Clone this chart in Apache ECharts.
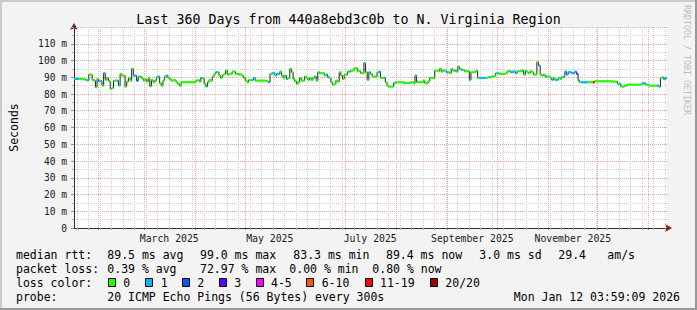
<!DOCTYPE html>
<html><head><meta charset="utf-8">
<script src="https://cdn.jsdelivr.net/npm/echarts@6/dist/echarts.min.js"></script>
<style>html,body{margin:0;padding:0;background:#f3f3f3}#c{width:697px;height:310px}</style>
</head><body><div id="c"></div>
<script>
// ---- data ----
const END_TIME = Date.UTC(2026, 0, 12, 3, 59, 9);
const SPAN_DAYS = 360;
const titleText = 'Last 360 Days from 440a8ebd3c0b to N. Virginia Region';
// day offsets (from the start of the 360-day window) where each median step begins
const days = [
  0,3,4,7,8,9,11,12,13,14,15,
  17,18,19,20,21,22,23,24,26,27,
  28,29,31,32,33,34,35,36,37,38,
  39,41,42,43,44,45,46,47,48,49,
  50,51,52,53,54,55,56,57,58,59,
  60,61,62,63,64,65,74,75,76,77,
  78,79,80,81,82,83,84,85,86,87,88,
  89,90,91,92,93,94,96,98,100,102,
  103,104,105,106,108,109,110,117,118,119,120,
  122,123,125,126,127,128,129,130,131,132,
  133,134,135,136,137,138,140,141,142,143,
  144,145,146,147,148,149,152,153,154,155,
  156,157,158,159,160,161,162,163,164,166,
  167,168,170,172,174,176,177,178,179,180,
  181,184,185,186,188,189,190,191,194,195,
  197,200,201,204,206,207,208,212,213,215,
  216,219,221,222,223,224,225,226,227,228,229,230,
  231,232,233,234,235,236,237,240,241,244,
  245,246,250,251,252,253,255,256,257,258,
  262,263,265,266,268,269,272,273,274,275,
  276,277,278,279,281,282,283,284,285,286,
  287,289,290,291,292,294,295,296,297,298,
  299,300,302,304,305,306,307,308,312,315,
  316,322,326,330,331,332,334,336,340,344,
  345,347,349,354,355,356,357,358,359
];
// median round-trip time in ms
const rttMs = [
  89.0,89.0,88.8,88.4,88.0,91.6,88.4,88.0,84.0,89.0,87.6,
  85.0,92.4,88.4,89.6,87.6,83.0,83.6,88.0,88.0,85.0,
  92.0,91.0,84.4,87.4,89.6,88.0,95.0,91.0,91.0,88.0,
  90.4,89.4,88.0,88.8,87.4,89.4,84.6,88.4,87.0,88.0,
  90.0,90.4,86.4,85.0,88.0,90.4,91.0,89.6,88.8,88.0,
  88.4,88.0,87.0,86.0,85.0,87.0,88.0,88.4,87.4,89.6,
  89.4,86.0,84.4,87.0,88.4,88.0,90.4,92.0,93.0,93.0,91.0,
  89.6,91.0,92.0,94.0,91.6,92.0,93.4,92.0,91.6,91.0,
  89.6,88.0,87.0,88.4,88.4,89.6,88.0,87.6,87.0,92.0,92.4,
  91.0,92.0,93.4,91.0,89.6,91.0,89.0,89.6,95.0,93.0,
  89.0,87.6,86.0,87.0,89.6,88.0,90.4,89.6,88.4,89.6,
  88.4,89.6,90.4,88.0,93.0,92.4,91.0,91.6,90.0,89.6,
  87.0,85.6,86.0,88.0,87.4,93.0,91.0,89.0,91.6,93.4,
  93.4,94.0,95.4,93.6,92.4,98.4,93.0,88.4,93.0,92.0,
  90.4,93.0,93.4,89.6,89.6,87.0,85.0,84.4,86.4,87.0,
  87.0,86.6,86.6,87.0,86.4,91.0,87.0,88.0,86.4,87.6,
  89.6,94.0,93.6,95.0,93.4,94.0,94.0,93.0,93.0,92.4,95.0,94.0,
  94.0,93.4,96.4,95.0,94.4,94.4,93.6,88.4,93.0,94.0,
  89.6,89.6,89.6,90.0,90.0,90.4,90.8,92.4,92.4,92.0,
  92.4,93.6,93.0,93.4,92.4,93.6,94.0,91.6,94.0,93.0,
  92.4,93.6,93.0,91.6,99.0,97.0,91.6,91.0,91.6,90.4,
  90.4,89.6,88.4,89.6,88.4,89.6,89.0,90.0,90.4,93.4,
  91.6,93.0,92.4,93.4,92.0,88.0,87.0,87.0,87.0,87.0,
  87.6,87.6,87.4,86.0,86.0,84.4,85.0,85.6,85.6,86.0,
  86.4,85.6,85.0,85.0,84.4,89.6,90.0,88.8,89.6
];
// loss class index per step (into lossLabels / lossColors)
const lossIdx = [
  1,0,0,1,0,0,0,0,0,0,1,
  0,1,0,0,0,0,0,0,1,0,
  0,0,0,0,0,0,0,1,1,2,
  0,0,0,0,0,0,0,0,0,0,
  0,1,0,0,0,0,1,0,0,0,
  0,0,0,0,0,0,0,0,0,1,
  0,0,0,0,0,0,0,0,1,0,0,
  0,0,0,0,0,0,0,0,0,0,
  0,0,0,0,1,1,0,0,1,0,1,
  0,1,0,0,0,0,1,0,0,0,
  0,0,0,0,0,0,0,0,0,0,
  0,0,1,0,0,0,0,1,1,0,
  0,0,0,0,0,0,0,0,0,0,
  1,0,0,0,0,1,0,0,1,0,
  0,0,1,0,1,0,0,0,1,0,
  0,1,0,0,0,1,0,0,0,0,
  0,0,0,0,0,1,0,1,0,0,0,0,
  1,0,0,0,1,0,0,1,0,0,
  0,1,0,0,1,0,0,0,1,0,
  0,0,1,1,1,0,1,0,0,0,
  0,0,0,0,0,1,0,0,0,1,
  0,0,1,0,1,0,0,0,1,1,
  1,1,1,1,2,1,0,1,0,6,
  0,0,0,0,1,0,0,0,0,0,
  1,0,0,1,1,0,0,1,1
];
const lossLabels = ['0','1','2','3','4-5','6-10','11-19','20/20'];
const lossColors = ['#26ff00','#00b8ff','#0059ff','#5e00ff','#ff00ff','#ff5500','#ff0000','#a10000'];
const monthNames = ['January','February','March','April','May','June','July','August','September','October','November','December'];
const labelMonths = [[2025,2],[2025,4],[2025,6],[2025,8],[2025,10]];
const rttStats = ['89.5 ms avg','99.0 ms max','83.3 ms min','89.4 ms now','3.0 ms sd','29.4','am/s'];
const lossStats = ['0.39 % avg','72.97 % max','0.00 % min','0.80 % now'];
const probeText = '20 ICMP Echo Pings (56 Bytes) every 300s';
const stampText = 'Mon Jan 12 03:59:09 2026';

// ---- derived ----
const DAY = 86400000;
const START = END_TIME - SPAN_DAYS * DAY;
const toDay = ms => (ms - START) / DAY;
const lineData = days.map((d, i) => [d, rttMs[i]]);
lineData.push([SPAN_DAYS, rttMs[rttMs.length - 1]]);
const segData = days.map((d, i) => [d, i + 1 < days.length ? days[i + 1] : SPAN_DAYS, rttMs[i], lossIdx[i]]);

// grid positions (in day offsets): weekly (Sundays) and monthly
const weekTicks = [];
{
  const s = new Date(START);
  let d = Date.UTC(s.getUTCFullYear(), s.getUTCMonth(), s.getUTCDate());
  while (new Date(d).getUTCDay() !== 0 || d < START) d += DAY;
  for (; d <= END_TIME; d += 7 * DAY) weekTicks.push(toDay(d));
}
const monthTicks = [];
{
  const s = new Date(START);
  let y = s.getUTCFullYear(), m = s.getUTCMonth() + 1;
  while (Date.UTC(y, m, 1) <= END_TIME) { monthTicks.push(toDay(Date.UTC(y, m, 1))); m++; if (m > 11) { m = 0; y++; } }
}
const labelTicks = labelMonths.map(([y, m]) => toDay(Date.UTC(y, m, 16)));

const MONO = '"DejaVu Sans Mono", monospace';
const G = [];
// frame
G.push({type:'rect', shape:{x:0,y:0,width:697,height:2}, style:{fill:'#cbcbcb'}, silent:true});
G.push({type:'rect', shape:{x:0,y:0,width:2,height:310}, style:{fill:'#cbcbcb'}, silent:true});
G.push({type:'rect', shape:{x:0,y:308,width:697,height:2}, style:{fill:'#999999'}, silent:true});
G.push({type:'rect', shape:{x:695,y:0,width:2,height:310}, style:{fill:'#999999'}, silent:true});
// title
G.push({type:'text', x:348.5, y:19, style:{text:titleText, font:'13.3px ' + MONO, fill:'#000', align:'center', verticalAlign:'middle'}});
// watermark
G.push({type:'text', x:687, y:60, rotation:-Math.PI/2, style:{text:'RRDTOOL / TOBI OETIKER', font:'8.3px ' + MONO, fill:'#bdbdbd', align:'center', verticalAlign:'middle'}});
function txt(s, x, y, align) {
  G.push({type:'text', x:x, y:y, style:{text:s, font:'11.5px ' + MONO, fill:'#000', align:align || 'left', verticalAlign:'middle'}});
}
// legend rows
txt('median rtt:', 16, 254.5);
[107.3, 200, 293.3, 386, 479.3, 558.3, 607.3].forEach((x, i) => txt(rttStats[i], x, 254.5));
txt('packet loss:', 16, 268.5);
[107.3, 200, 289.3, 372.3].forEach((x, i) => txt(lossStats[i], x, 268.5));
txt('loss color:', 16, 282.5);
const swX = [108.5, 145.5, 182.5, 219.5, 256.5, 306.5, 365.5, 430.5];
const swLabelX = [123.3, 160.7, 197.3, 234.3, 271, 321.7, 380, 445.3];
lossLabels.forEach((l, i) => {
  G.push({type:'rect', shape:{x:swX[i], y:278.5, width:7, height:8}, style:{fill:lossColors[i], stroke:'#000', lineWidth:1}});
  txt(l, swLabelX[i], 282.5);
});
txt('probe:', 16, 296.5);
txt(probeText, 107.3, 296.5);
txt(stampText, 680, 296.5, 'right');

const chart = echarts.init(document.getElementById('c'), null, {renderer:'svg', width:697, height:310});
const dotted = [1, 1];
chart.setOption({
  animation: false,
  backgroundColor: '#f3f3f3',
  grid: {left:66, right:30, top:27, bottom:82, show:true, backgroundColor:'#ffffff', borderWidth:0, containLabel:false},
  xAxis: [
    {
      type:'value', min:0, max:SPAN_DAYS, position:'bottom', z:3,
      axisLine:{show:true, onZero:false, lineStyle:{color:'#303030', width:1}},
      axisTick:{show:true, customValues:weekTicks, length:2, lineStyle:{color:'#b0b0b0'}},
      splitLine:{show:true, lineStyle:{color:'#d2d2d2', width:1, type:dotted}},
      axisLabel:{show:true, customValues:labelTicks, margin:5, fontFamily:MONO, fontSize:9.8, color:'#1a1a1a', hideOverlap:false,
        showMinLabel:true, showMaxLabel:true,
        formatter: v => { const d = new Date(START + v * DAY); return monthNames[d.getUTCMonth()] + ' ' + d.getUTCFullYear(); }}
    },
    {
      type:'value', min:0, max:SPAN_DAYS, position:'bottom', z:2,
      axisLine:{show:false, onZero:false},
      axisTick:{show:true, customValues:monthTicks, length:2, lineStyle:{color:'#e87878'}},
      splitLine:{show:true, lineStyle:{color:'#f2a0a0', width:1, type:dotted}},
      axisLabel:{show:false}
    },
    {
      type:'value', min:0, max:SPAN_DAYS, position:'bottom', z:1,
      axisLine:{show:true, onZero:false, symbol:['none','arrow'], symbolSize:[6,7], symbolOffset:[0,5], lineStyle:{color:'#8b1a1a', width:1}},
      axisTick:{show:false}, splitLine:{show:false}, axisLabel:{show:false}
    }
  ],
  yAxis: [
    {
      type:'value', min:0, max:120, interval:10, z:3,
      name:'Seconds', nameLocation:'middle', nameRotate:90, nameGap:54,
      nameTextStyle:{fontFamily:MONO, fontSize:11.5, color:'#000'},
      axisLine:{show:true, onZero:false, lineStyle:{color:'#303030', width:1}},
      axisTick:{show:true, length:3, lineStyle:{color:'#909090'}},
      minorTick:{show:true, splitNumber:2, length:2, lineStyle:{color:'#b0b0b0'}},
      splitLine:{show:true, lineStyle:{color:'#f2a0a0', width:1, type:dotted}},
      minorSplitLine:{show:true, lineStyle:{color:'#d2d2d2', width:1, type:dotted}},
      axisLabel:{margin:7, fontFamily:MONO, fontSize:9.6, color:'#1a1a1a',
        formatter: v => v === 0 ? '0' : (v >= 120 ? '' : v + ' m')}
    },
    {
      type:'value', min:0, max:120, position:'left', z:1,
      axisLine:{show:true, onZero:false, symbol:['none','arrow'], symbolSize:[6,7], symbolOffset:[0,4], lineStyle:{color:'#8b1a1a', width:1}},
      axisTick:{show:false}, splitLine:{show:false}, axisLabel:{show:false}
    }
  ],
  series: [
    {
      type:'line', xAxisIndex:0, yAxisIndex:0, step:'end', showSymbol:false, symbol:'none',
      data:lineData, lineStyle:{color:'#202020', width:1}, z:5, silent:true
    },
    {
      type:'custom', xAxisIndex:0, yAxisIndex:0, data:segData, encode:{x:[0,1], y:2}, z:6, silent:true,
      renderItem: (params, api) => {
        const p0 = api.coord([api.value(0), api.value(2)]);
        const p1 = api.coord([api.value(1), api.value(2)]);
        return {type:'rect', shape:{x:p0[0], y:p0[1] - 1.1, width:Math.max(p1[0] - p0[0], 0.8), height:2.2},
          style:{fill:lossColors[api.value(3)]}};
      }
    }
  ],
  graphic: {elements: G}
});
</script>
</body></html>
